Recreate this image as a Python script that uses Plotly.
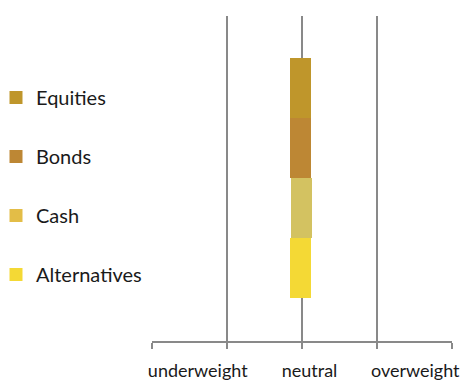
import plotly.graph_objects as go

# Data
categories = ["Alternatives", "Cash", "Bonds", "Equities"]
bar_base = [-0.16, -0.145, -0.16, -0.16]
bar_len = [0.28, 0.28, 0.28, 0.28]
bar_colors = ["#F4D935", "#D3C261", "#BD8734", "#BF962B"]
legend_order = ["Equities", "Bonds", "Cash", "Alternatives"]
legend_colors = {"Equities": "#BF962B", "Bonds": "#BD8734", "Cash": "#E3BD47", "Alternatives": "#F4D935"}
grid_vals = [-2, -1, 0, 1, 2]
tick_labels = ["underweight", "neutral", "overweight"]
tick_label_pos = [-1.39, 0.1, 1.51]

FONT = "Lato"

fig = go.Figure()
for cat, b, l, c in zip(categories, bar_base, bar_len, bar_colors):
    fig.add_trace(go.Bar(
        y=[cat], x=[l], base=[b], orientation="h",
        marker=dict(color=c, line=dict(width=0)),
        showlegend=False, hoverinfo="skip",
    ))

for i, name in enumerate(legend_order):
    fig.add_trace(go.Scatter(
        x=[None], y=[None], mode="markers", name=name,
        marker=dict(symbol="square", size=13, color=legend_colors[name]),
        legendgroup=name, showlegend=True,
    ))

fig.add_trace(go.Scatter(x=[None], y=[None], xaxis="x2", showlegend=False, hoverinfo="skip"))

fig.update_layout(
    width=463, height=381,
    margin=dict(l=152, r=11, t=16, b=40, autoexpand=False),
    paper_bgcolor="white", plot_bgcolor="white",
    barmode="overlay", bargap=0,
    font=dict(family=FONT, color="#1a1a1a"),
    xaxis=dict(
        range=[-2, 2], tickvals=grid_vals, showticklabels=False,
        showgrid=True, gridcolor="#898989", gridwidth=2, zeroline=False,
        showline=True, linecolor="#898989", linewidth=2,
        ticks="outside", ticklen=6, tickcolor="#898989", tickwidth=2,
        fixedrange=True,
    ),
    xaxis2=dict(
        range=[-2, 2], overlaying="x", anchor="y", side="bottom",
        tickvals=tick_label_pos, ticktext=tick_labels, showgrid=False,
        zeroline=False, showline=False, ticks="",
        ticklabelstandoff=17,
        tickfont=dict(family=FONT, size=18, color="#1a1a1a"),
    ),
    yaxis=dict(
        type="category", categoryorder="array", categoryarray=categories,
        range=[-1.2167, 4.2], showticklabels=False, showgrid=False,
        zeroline=False, showline=False, ticks="",
    ),
    legend=dict(
        x=-0.52, y=(341 - 78) / 325,
        xanchor="left", yanchor="top",
        font=dict(family=FONT, size=20, color="#1a1a1a"),
        tracegroupgap=30, itemwidth=30, traceorder="grouped",
        bgcolor="rgba(0,0,0,0)", maxheight=1.0,
    ),
)

fig.write_html("out.html")
